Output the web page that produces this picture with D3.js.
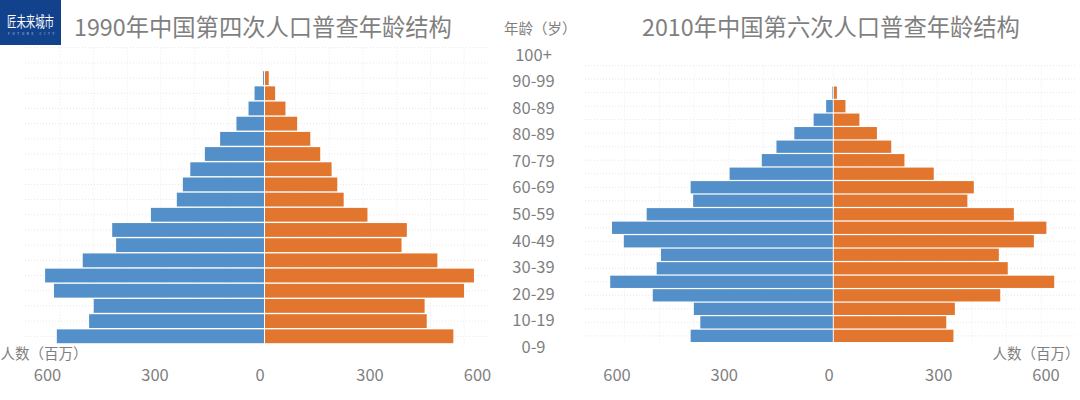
<!DOCTYPE html>
<html>
<head>
<meta charset="utf-8">
<script src="https://cdn.jsdelivr.net/npm/d3@7"></script>
<style>
body { margin: 0; background: #fff; }
text { font-family: "Noto Sans CJK SC", "Noto Sans", sans-serif; fill: #7f7f7f; }
</style>
</head>
<body>
<div id="chart"></div>
<script>
// rows run from the oldest group (top) down to the youngest
var male1990 = [4,28,45,79,125,168,209,230,247,320,429,418,512,618,593,481,494,585];
var female1990 = [12,30,59,92,129,157,189,205,223,290,401,386,487,590,562,451,457,532];
var male2010 = [3,20,55,109,159,200,290,399,392,522,619,586,482,494,624,505,390,372,399];
var female2010 = [10,34,73,122,162,199,281,393,375,505,596,561,463,488,618,467,340,316,336];

var ageLabels = ["100+","90-99","80-89","80-89","70-79","60-69","50-59","40-49","30-39","20-29","10-19","0-9"];
var popTicks = [-600,-300,0,300,600];
var title1990 = "1990年中国第四次人口普查年龄结构";
var title2010 = "2010年中国第六次人口普查年龄结构";

var w = 1080;
var h = 400;
var svg = d3.select("#chart")
  .append("svg")
  .attr("width", w)
  .attr("height", h)
  .style("display", "block");

function drawPyramid(male, female, p) {
  var x = d3.scaleLinear().domain([-600,600]).range([p.cx - 600*p.unit, p.cx + 600*p.unit]);
  var axisX = d3.scaleLinear().domain([-600,600]).range([p.labelCx - p.labelHalf, p.labelCx + p.labelHalf]);
  var gridX = d3.scaleLinear().domain([-7,7]).range([p.gridCx - 7*p.gridStep, p.gridCx + 7*p.gridStep]);
  // two empty rows sit above the bars, only the grid reaches them
  var y = d3.scaleBand().domain(d3.range(-2, male.length)).range([p.top, p.bottom]).paddingInner(0.09);
  var g = svg.append("g");

  g.selectAll("line.h")
    .data(y.domain())
    .enter()
    .append("line")
    .attr("x1", p.gridLeft)
    .attr("x2", p.gridRight)
    .attr("y1", function(d) { return y(d) + y.bandwidth()/2; })
    .attr("y2", function(d) { return y(d) + y.bandwidth()/2; })
    .attr("stroke", "#e6e6e6")
    .attr("stroke-dasharray", "1 2");

  g.selectAll("line.v")
    .data(d3.range(-6, 7))
    .enter()
    .append("line")
    .attr("x1", function(d) { return gridX(d); })
    .attr("x2", function(d) { return gridX(d); })
    .attr("y1", p.top + y.bandwidth()/2)
    .attr("y2", p.bottom)
    .attr("stroke", "#ececec")
    .attr("stroke-dasharray", "1 2");

  g.selectAll("rect.male")
    .data(male)
    .enter()
    .append("rect")
    .attr("x", function(d) { return x(-d); })
    .attr("y", function(d, i) { return y(i); })
    .attr("width", function(d) { return x(0) - x(-d) - 0.5; })
    .attr("height", y.bandwidth())
    .attr("fill", "#5390c9");

  g.selectAll("rect.female")
    .data(female)
    .enter()
    .append("rect")
    .attr("x", x(0) + 0.5)
    .attr("y", function(d, i) { return y(i); })
    .attr("width", function(d) { return x(d) - x(0) - 0.5; })
    .attr("height", y.bandwidth())
    .attr("fill", "#e2762f");

  var axis = d3.axisBottom(axisX)
    .tickValues(popTicks)
    .tickSize(0)
    .tickFormat(function(d) { return Math.abs(d); });
  var ax = g.append("g")
    .attr("transform", "translate(0," + p.axisY + ")")
    .call(axis);
  ax.select(".domain").remove();
  ax.selectAll("text")
    .style("font-size", "16.5px")
    .attr("dx", function(d) { return d == 0 ? -2.5 : 0; });

  g.append("text")
    .attr("x", p.titleX)
    .attr("y", 36)
    .style("font-size", "23.3px")
    .text(p.title);

  g.append("text")
    .attr("x", p.unitX)
    .attr("y", 358.5)
    .style("font-size", "14.5px")
    .text("人数（百万）");
}

drawPyramid(male1990, female1990, {
  cx: 264.5, unit: 0.355, labelCx: 262, labelHalf: 215,
  gridCx: 262, gridStep: 33.7, gridLeft: 25, gridRight: 490,
  top: 40.8, bottom: 343.2, axisY: 366, titleX: 74, title: title1990, unitX: 0.5
});

drawPyramid(male2010, female2010, {
  cx: 833.3, unit: 0.3575, labelCx: 831, labelHalf: 214.5,
  gridCx: 833, gridStep: 34.7, gridLeft: 585, gridRight: 1076,
  top: 59.5, bottom: 342, axisY: 366, titleX: 642, title: title2010, unitX: 992.5
});

// age labels between the two pyramids
var ageY = d3.scalePoint().domain(d3.range(ageLabels.length)).range([53.5, 346]);
svg.selectAll("text.age")
  .data(ageLabels)
  .enter()
  .append("text")
  .attr("class", "age")
  .attr("x", 533.5)
  .attr("y", function(d, i) { return ageY(i); })
  .attr("text-anchor", "middle")
  .attr("dominant-baseline", "central")
  .style("font-size", "16.5px")
  .text(function(d) { return d; });

svg.append("text")
  .attr("x", 504)
  .attr("y", 34)
  .style("font-size", "14.5px")
  .text("年龄（岁）");

// logo, the name is drawn narrow and stretched tall
svg.append("rect")
  .attr("width", 61)
  .attr("height", 45)
  .attr("fill", "#13428c");
svg.append("text")
  .attr("transform", "translate(7,27) scale(1,1.6)")
  .style("font-size", "9.4px")
  .style("fill", "#ffffff")
  .text("匠未来城市");
svg.append("text")
  .attr("x", 8)
  .attr("y", 35)
  .attr("textLength", 46)
  .style("font-size", "3px")
  .style("fill", "#c5d2e6")
  .text("FUTURE CITY");
</script>
</body>
</html>
